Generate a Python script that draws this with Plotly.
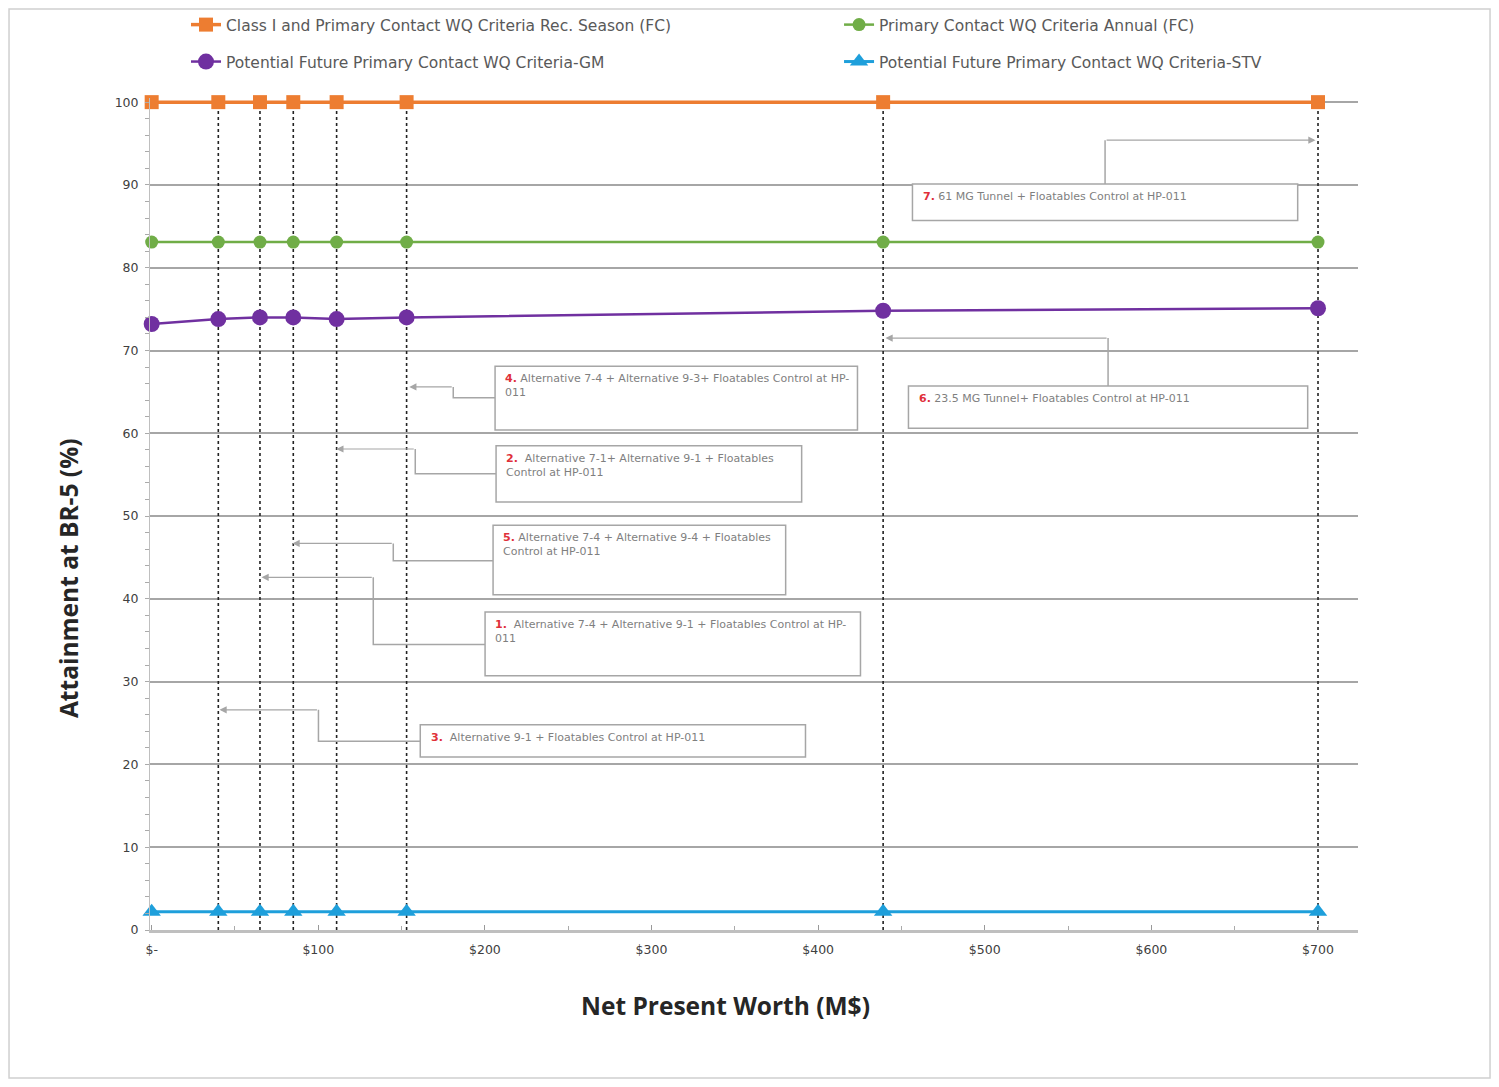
import plotly.graph_objects as go

# ---------------- data ----------------
npw = [0, 40, 65, 85, 111, 153, 439, 700]          # Net present worth (M$)
class1_rec = [100, 100, 100, 100, 100, 100, 100, 100]
primary_annual = [83.1, 83.1, 83.1, 83.1, 83.1, 83.1, 83.1, 83.1]
future_gm = [73.2, 73.8, 74.0, 74.0, 73.8, 74.0, 74.8, 75.1]
future_stv = [2.2, 2.2, 2.2, 2.2, 2.2, 2.2, 2.2, 2.2]

series_names = [
    "Class I and Primary Contact WQ Criteria Rec. Season (FC)",
    "Primary Contact WQ Criteria Annual (FC)",
    "Potential Future Primary Contact WQ Criteria-GM",
    "Potential Future Primary Contact WQ Criteria-STV",
]

x_tick_vals = [0, 100, 200, 300, 400, 500, 600, 700]
x_tick_text = ["$-", "$100", "$200", "$300", "$400", "$500", "$600", "$700"]
y_tick_vals = [0, 10, 20, 30, 40, 50, 60, 70, 80, 90, 100]

x_title = "Net Present Worth (M$)"
y_title = "Attainment at BR-5 (%)"

callout_nums = ["7.", "6.", "4.", "2.", "5.", "1.", "3."]
callout_texts = [
    " 61 MG Tunnel + Floatables Control at HP-011",
    " 23.5 MG Tunnel+ Floatables Control at HP-011",
    " Alternative 7-4 + Alternative 9-3+ Floatables Control at HP-<br>011",
    "  Alternative 7-1+ Alternative 9-1 + Floatables<br>Control at HP-011",
    " Alternative 7-4 + Alternative 9-4 + Floatables<br>Control at HP-011",
    "  Alternative 7-4 + Alternative 9-1 + Floatables Control at HP-<br>011",
    "  Alternative 9-1 + Floatables Control at HP-011",
]

# ---------------- layout helpers (positions in data units) ----------------
boxes = [  # x0, x1, y_top, y_bottom
    (456.6, 687.8, 90.1, 85.7),
    (454.2, 693.8, 65.7, 60.6),
    (206.1, 423.6, 68.1, 60.4),
    (206.7, 390.1, 58.5, 51.7),
    (204.9, 380.5, 48.9, 40.5),
    (200.1, 425.4, 38.4, 30.7),
    (161.2, 392.4, 24.8, 20.9),
]
connectors = [
    [(572.2, 90.1), (572.2, 95.4), (698.5, 95.4)],
    [(574.0, 65.7), (574.0, 71.5), (440.4, 71.5)],
    [(206.1, 64.3), (181.0, 64.3), (181.0, 65.6), (154.6, 65.6)],
    [(206.7, 55.1), (158.2, 55.1), (158.2, 58.1), (110.8, 58.1)],
    [(204.9, 44.6), (145.0, 44.6), (145.0, 46.7), (84.5, 46.7)],
    [(200.1, 34.5), (133.0, 34.5), (133.0, 42.6), (65.9, 42.6)],
    [(161.2, 22.8), (100.1, 22.8), (100.1, 26.6), (40.7, 26.6)],
]

fig = go.Figure()

vx, vy = [], []
for xv in npw[1:]:
    vx += [xv, xv, None]
    vy += [0, 100, None]
fig.add_trace(go.Scatter(x=vx, y=vy, mode="lines", showlegend=False, hoverinfo="skip",
                         line=dict(color="#222222", width=1.6, dash="3px,3px")))

fig.add_trace(go.Scatter(x=npw, y=future_stv, name=series_names[3], mode="lines+markers",
                         line=dict(color="#1E9FDB", width=3),
                         marker=dict(symbol="triangle-up", size=16, color="#1E9FDB"),
                         legend="legend4", cliponaxis=False))
fig.add_trace(go.Scatter(x=npw, y=future_gm, name=series_names[2], mode="lines+markers",
                         line=dict(color="#7030A0", width=2.5),
                         marker=dict(symbol="circle", size=16, color="#7030A0"),
                         legend="legend3", cliponaxis=False))
fig.add_trace(go.Scatter(x=npw, y=primary_annual, name=series_names[1], mode="lines+markers",
                         line=dict(color="#70AD47", width=2.5),
                         marker=dict(symbol="circle", size=13, color="#70AD47"),
                         legend="legend2", cliponaxis=False))
fig.add_trace(go.Scatter(x=npw, y=class1_rec, name=series_names[0], mode="lines+markers",
                         line=dict(color="#ED7D31", width=3.5),
                         marker=dict(symbol="square", size=14, color="#ED7D31"),
                         legend="legend", cliponaxis=False))

shapes = []
annotations = []
grey = "#A6A6A6"
for (x0, x1, yt, yb), pts, num, txt in zip(boxes, connectors, callout_nums, callout_texts):
    path = "M " + " L ".join(f"{px},{py}" for px, py in pts[:-1])
    shapes.append(dict(type="path", path=path, xref="x", yref="y",
                       line=dict(color=grey, width=1.5), layer="above"))
    annotations.append(dict(x=pts[-1][0], y=pts[-1][1], ax=pts[-2][0], ay=pts[-2][1],
                            xref="x", yref="y", axref="x", ayref="y", text="",
                            showarrow=True, arrowhead=2, arrowsize=1.2, arrowwidth=1.2,
                            arrowcolor=grey))
    shapes.append(dict(type="rect", x0=x0, x1=x1, y0=yb, y1=yt, xref="x", yref="y",
                       line=dict(color=grey, width=1.5), fillcolor="white", layer="above"))
    annotations.append(dict(x=x0 + 5, y=yt - 0.5, xref="x", yref="y", xanchor="left", yanchor="top",
                            align="left", showarrow=False,
                            text=f"<span style='color:#E0303A'><b>{num}</b></span>{txt}",
                            font=dict(size=11, color="#7F7F7F", family="DejaVu Sans")))

# axis titles (placed as in the original, offset from the plot centre)
annotations.append(dict(x=0.4768, y=-0.0913, xref="paper", yref="paper", showarrow=False,
                        xanchor="center", yanchor="middle", text=f"<b>{x_title}</b>",
                        font=dict(size=24.5, color="#262626", family="Open Sans")))
annotations.append(dict(x=-0.0679, y=0.423, xref="paper", yref="paper", showarrow=False,
                        xanchor="center", yanchor="middle", textangle=-90, text=f"<b>{y_title}</b>",
                        font=dict(size=24.5, color="#262626", family="Open Sans")))

# outer frame
shapes.append(dict(type="rect", xref="paper", yref="paper", x0=-0.1167, x1=1.1093, y0=-0.178, y1=1.107,
                   line=dict(color="#D0D0D0", width=1.5), layer="below"))

leg_font = dict(size=15.5, color="#595959", family="DejaVu Sans")
def leg(x, y):
    return dict(orientation="h", x=x, xanchor="left", y=y, yanchor="middle",
                font=leg_font, bgcolor="rgba(0,0,0,0)")

fig.update_layout(
    width=1483, height=1071,
    margin=dict(l=142, r=133, t=90, b=149, autoexpand=False),
    paper_bgcolor="white", plot_bgcolor="white",
    font=dict(family="DejaVu Sans", color="#404040"),
    shapes=shapes, annotations=annotations,
    legend=leg(0.0298, 1.0877),
    legend2=leg(0.5704, 1.0877),
    legend3=leg(0.0298, 1.0433),
    legend4=leg(0.5704, 1.0433),
    xaxis=dict(range=[-1, 724], tickvals=x_tick_vals, ticktext=x_tick_text,
               showgrid=False, zeroline=False, showline=True, linecolor="#BFBFBF", linewidth=3,
               ticks="inside", ticklen=5, tickcolor="#999999", ticklabelstandoff=6,
               minor=dict(dtick=50, tick0=0, ticks="inside", ticklen=4, tickcolor="#AAAAAA"),
               tickfont=dict(size=12.5, color="#404040")),
    yaxis=dict(range=[0, 100.5], tickvals=y_tick_vals, showgrid=True, gridcolor="#A6A6A6", gridwidth=1.5,
               zeroline=False, showline=True, linecolor="#BFBFBF", linewidth=1,
               ticks="", minor=dict(dtick=2, ticks="outside", ticklen=4, tickcolor="#AAAAAA"),
               tickfont=dict(size=12.5, color="#404040"), ticklabelstandoff=8),
)

fig.write_html("out.html")
